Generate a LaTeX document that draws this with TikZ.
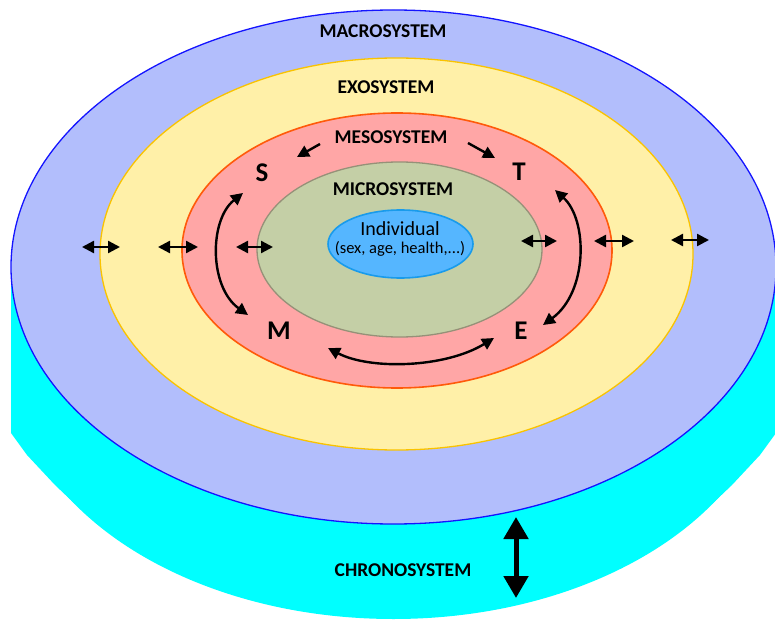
\documentclass[tikz,border=0pt]{standalone}
\usepackage{fontspec}
\setmainfont{Carlito}
\usetikzlibrary{shapes.geometric,arrows.meta}

\definecolor{macroFill}{RGB}{178,190,252}
\definecolor{macroLine}{RGB}{20,20,255}
\definecolor{exoFill}{RGB}{255,240,168}
\definecolor{exoLine}{RGB}{250,195,0}
\definecolor{mesoFill}{RGB}{255,166,166}
\definecolor{mesoLine}{RGB}{255,90,10}
\definecolor{microFill}{RGB}{196,207,166}
\definecolor{microLine}{RGB}{150,145,120}
\definecolor{indFill}{RGB}{85,182,255}
\definecolor{indLine}{RGB}{25,155,235}
\definecolor{chronoFill}{RGB}{0,255,255}

\tikzset{
  sys/.style={ellipse, inner sep=0pt, outer sep=0pt, line width=1.3bp},
  lab/.style={inner sep=0pt, font=\fontsize{19.5bp}{22bp}\selectfont\bfseries},
  letter/.style={inner sep=0pt, font=\fontsize{27bp}{30bp}\selectfont\bfseries},
  one/.style={-{Triangle[length=12bp,width=12bp]}, line width=2.4bp},
  dbl/.style={{Triangle[length=12bp,width=12bp]}-{Triangle[length=12bp,width=12bp]}, line width=2.4bp},
  bigdbl/.style={{Triangle[length=22bp,width=24bp]}-{Triangle[length=22bp,width=24bp]}, line width=5bp}
}

\begin{document}
\begin{tikzpicture}[x=1bp, y=-1bp]
\useasboundingbox (0,0) rectangle (775,620);

% side wall of the disc (chronosystem)
\fill[chronoFill] (11,267) rectangle (776,362);
\fill[chronoFill] (393.5,362) ellipse [x radius=382.5, y radius=257];
\fill[chronoFill] (11,360) -- (11,433) -- (27,455) -- (55,485) -- (75,504) -- (75,360) -- cycle;
\fill[chronoFill] (776,360) -- (776,433) -- (760,455) -- (732,485) -- (712,504) -- (712,360) -- cycle;

% nested systems
\node[sys, fill=macroFill, draw=macroLine, minimum width=765bp, minimum height=514bp] (macro) at (393.5,267) {};
\node[sys, fill=exoFill, draw=exoLine, minimum width=593bp, minimum height=392bp] (exo) at (396.5,254) {};
\node[sys, fill=mesoFill, draw=mesoLine, line width=1.6bp, minimum width=430bp, minimum height=275bp] (meso) at (397,250.5) {};
\node[sys, fill=microFill, draw=microLine, minimum width=285bp, minimum height=175bp] (micro) at (399.5,249.5) {};
\node[sys, fill=indFill, draw=indLine, line width=1.6bp, minimum width=145bp, minimum height=68bp] (ind) at (400.5,244) {};

% labels
\node[lab] (macroT) at (383,31) {MACROSYSTEM};
\node[lab] (exoT) at (386,87) {EXOSYSTEM};
\node[lab] (mesoT) at (391,137) {MESOSYSTEM};
\node[lab] (microT) at (393,189) {MICROSYSTEM};
\node[inner sep=0pt, font=\fontsize{20bp}{22bp}\selectfont] (indT) at (400,229) {Individual};
\node[inner sep=0pt, font=\fontsize{16.5bp}{18bp}\selectfont] (indSub) at (400,249) {(sex, age, health,...)};
\node[lab] (chronoT) at (403,570) {CHRONOSYSTEM};

\node[letter] (S) at (262,173) {S};
\node[letter] (T) at (519,172) {T};
\node[letter] (M) at (279,331) {M};
\node[letter] (E) at (521,331) {E};

% boundary crossing arrows
\coordinate (a1l) at (82,247);  \coordinate (a1r) at (120,247);
\coordinate (a2l) at (158,247); \coordinate (a2r) at (198,247);
\coordinate (a3l) at (236,247); \coordinate (a3r) at (273,247);
\coordinate (a4l) at (521,241); \coordinate (a4r) at (557,241);
\coordinate (a5l) at (594,241); \coordinate (a5r) at (634,241);
\coordinate (a6l) at (671,240); \coordinate (a6r) at (709,240);
\foreach \i in {1,...,6} \draw[dbl] (a\i l) -- (a\i r);

% mesosystem links
\coordinate (ms1) at (320,144); \coordinate (me1) at (297,157);
\coordinate (ms2) at (468,143); \coordinate (me2) at (495,158);
\draw[one] (ms1) -- (me1);
\draw[one] (ms2) -- (me2);

\coordinate (sm1) at (243,193); \coordinate (sm2) at (248,315);
\draw[dbl] (sm1) .. controls (209,220) and (209,287) .. (sm2);
\coordinate (te1) at (555,190); \coordinate (te2) at (543,325);
\draw[dbl] (te1) .. controls (588,220) and (588,292) .. (te2);
\coordinate (mb1) at (328,348); \coordinate (mb2) at (494,338);
\draw[dbl] (mb1) .. controls (370,370) and (445,368) .. (mb2);

% chronosystem arrow
\coordinate (c1) at (516,517); \coordinate (c2) at (516,598);
\draw[bigdbl] (c1) -- (c2);
\end{tikzpicture}
\end{document}
